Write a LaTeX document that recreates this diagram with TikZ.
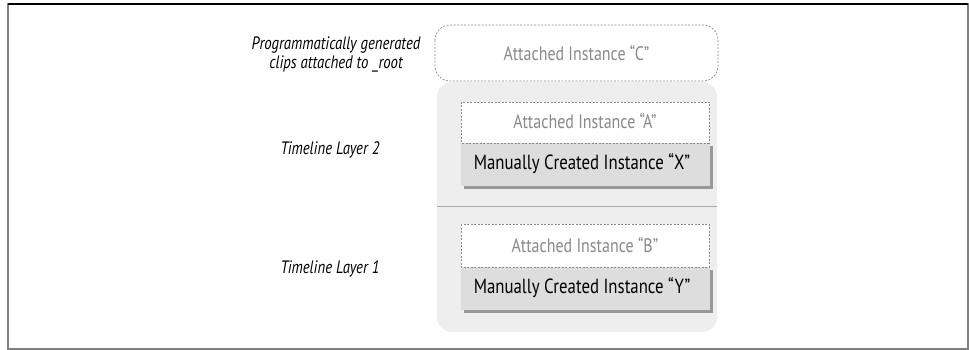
\documentclass[tikz,border=0pt]{standalone}
\usepackage{fontspec}
\setmainfont[FakeStretch=0.82]{PT Sans}
\definecolor{panelgray}{HTML}{EEEEEE}
\definecolor{boxgray}{HTML}{DDDDDD}
\definecolor{shadowgray}{HTML}{999999}
\definecolor{textgray}{HTML}{8A8A8A}
\definecolor{linegray}{HTML}{AAAAAA}
\tikzset{
  attbox/.style={draw=textgray, dashed, dash pattern=on 2pt off 1.5pt, fill=white, line width=0.7pt},
  manbox/.style={fill=boxgray},
  shadowbox/.style={fill=shadowgray},
  atttext/.style={text=textgray, font=\fontsize{19.5}{22}\selectfont},
  mantext/.style={text=black, font=\fontsize{20.5}{23}\selectfont},
  labtext/.style={text=black, font=\itshape\fontsize{18}{19}\selectfont, align=center},
}
\begin{document}
\begin{tikzpicture}[x=1pt,y=-1pt]
\useasboundingbox (0,0) rectangle (969,350);
% frame
\draw[draw=gray, line width=1.5pt] (8,4) rectangle (968,349);
\draw[black, line width=1.5pt] (8,4) -- (968,4);
% grey panel
\fill[panelgray, rounded corners=15pt] (437,82) rectangle (717,332);
\draw[linegray, line width=1pt] (437,206) -- (717,206);
% attached C
\draw[attbox, rounded corners=15pt] (435,25) rectangle (718,81);
\node[atttext] (c) at (576.5,53) {Attached Instance “C”};
% layer 2
\fill[shadowgray] (464,146) rectangle (713,189);
\fill[manbox] (461,143) rectangle (710,186);
\draw[attbox] (461,102) rectangle (709,143);
\node[atttext] (a) at (585,121) {Attached Instance “A”};
\node[mantext] (x) at (582,164) {Manually Created Instance “X”};
% layer 1
\fill[shadowgray] (464,270) rectangle (713,313);
\fill[manbox] (461,267) rectangle (710,310);
\draw[attbox] (461,224) rectangle (709,267);
\node[atttext] (b) at (585,245) {Attached Instance “B”};
\node[mantext] (y) at (582,288) {Manually Created Instance “Y”};
% labels
\node[labtext, anchor=east] (lp) at (424,54) {Programmatically generated\\clips attached to \_root};
\node[labtext, anchor=east] (l2) at (383,150) {Timeline Layer 2};
\node[labtext, anchor=east] (l1) at (383,269) {Timeline Layer 1};
\end{tikzpicture}
\end{document}
